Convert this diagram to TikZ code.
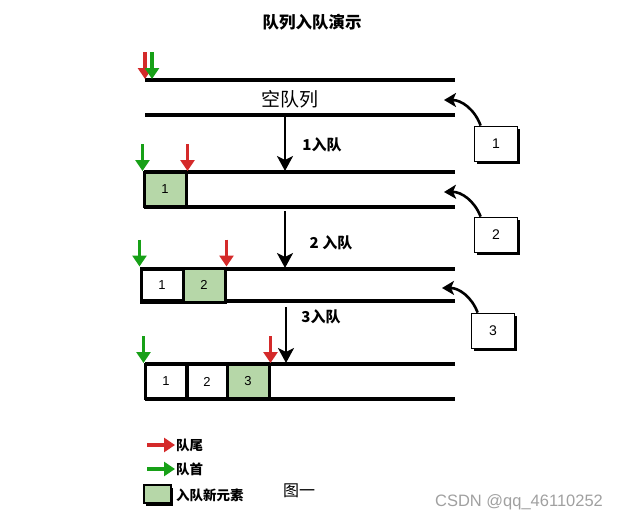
\documentclass[tikz,border=0pt]{standalone}
\usepackage{fontspec}
\setmainfont{Liberation Sans}
\newfontfamily\cjk{Noto Sans CJK SC}
\usetikzlibrary{arrows.meta, shadows}
\definecolor{TailRed}{HTML}{D42A2A}
\definecolor{HeadGreen}{HTML}{17A017}
\definecolor{NewGreen}{HTML}{B6D7A8}
\definecolor{MarkGray}{HTML}{A0A0A0}
\tikzset{
  qline/.style={line width=3.2pt},
  cell/.style={draw, line width=3pt, minimum width=42pt, minimum height=34pt,
               inner sep=0pt, font=\fontsize{13}{15}\selectfont},
  newcell/.style={cell, fill=NewGreen},
  tailptr/.style={TailRed, line width=3.2pt, -{Triangle[width=14pt,length=11pt]}},
  headptr/.style={HeadGreen, line width=3.2pt, -{Triangle[width=14pt,length=11pt]}},
  stepdown/.style={line width=2.6pt, -{Stealth[width=16pt,length=15pt,inset=4pt]}},
  numbox/.style={draw, line width=1.8pt, fill=white, minimum width=43pt,
                 minimum height=35pt, font=\fontsize{14}{16}\selectfont,
                 drop shadow={shadow xshift=2.5pt, shadow yshift=-2.5pt, fill=black, opacity=1}},
  bendarrow/.style={line width=2.6pt, -{Stealth[width=14pt,length=12pt,inset=3pt]}},
  cjklabel/.style={font=\cjk\bfseries\fontsize{15}{17}\selectfont},
  legtext/.style={font=\cjk\bfseries\fontsize{13.5}{15}\selectfont, anchor=west, inner sep=1pt}
}
\begin{document}
\begin{tikzpicture}[x=1pt, y=-1pt]
  \useasboundingbox (0,0) rectangle (620,520);
  % Title
  \node[font=\cjk\bfseries\fontsize{16.5}{18}\selectfont] (title) at (312,22) {队列入队演示};
  % Queue walls
  \foreach \l/\t/\b in {145/80/115, 144/172/207, 141/269/301, 145/364/399}{
    \draw[qline] (\l,\t) -- (455,\t);
    \draw[qline] (\l,\b) -- (455,\b);
  }
  \node[font=\cjk\fontsize{19}{21}\selectfont] (empty) at (290,99) {空队列};
  % Cells
  \node[newcell] (c11) at (165,189.5) {1};
  \node[cell]    (c21) at (162,285) {1};
  \node[newcell] (c22) at (204,285) {2};
  \node[cell]    (c31) at (166,381.5) {1};
  \node[cell]    (c32) at (207,381.5) {2};
  \node[newcell] (c33) at (248,381.5) {3};
  % Head and tail pointers
  \coordinate (r0) at (145,52);
  \coordinate (r0e) at (145,79);
  \coordinate (g0) at (152,52);
  \coordinate (g0e) at (152,79);
  \draw[tailptr] (r0) -- (r0e);
  \draw[headptr] (g0) -- (g0e);
  \foreach \h/\t in {c11/c11, c21/c22, c31/c33}{
    \draw[headptr] ([yshift=27pt]\h.north west) -- (\h.north west);
    \draw[tailptr] ([yshift=27pt]\t.north east) -- (\t.north east);
  }
  % Enqueue steps
  \coordinate (d0) at (285,115);
  \coordinate (d1) at (285,171);
  \coordinate (d2) at (285,211);
  \coordinate (d3) at (285,268);
  \coordinate (d4) at (286,307);
  \coordinate (d5) at (286,363);
  \draw[stepdown] (d0) -- (d1);
  \draw[stepdown] (d2) -- (d3);
  \draw[stepdown] (d4) -- (d5);
  \node[cjklabel] (s1) at (322,145) {1入队};
  \node[cjklabel] (s2) at (331,243) {2 入队};
  \node[cjklabel] (s3) at (321,317) {3入队};
  % Incoming elements
  \node[numbox] (n1) at (496,144) {1};
  \node[numbox] (n2) at (496,235) {2};
  \node[numbox] (n3) at (493,331) {3};
  \coordinate (t1) at (444,100);
  \coordinate (t2) at (444,192);
  \coordinate (t3) at (442,288);
  \foreach \n/\t in {n1/t1, n2/t2, n3/t3}{
    \draw[bendarrow] ([xshift=7pt]\n.north west) to[bend right=35] (\t);
  }
  % Legend
  \coordinate (lr) at (147,445);
  \coordinate (lg) at (147,469);
  \node[legtext] (ltail) at (175,445) {队尾};
  \node[legtext] (lhead) at (175,469) {队首};
  \draw[tailptr] (lr) -- (ltail.west);
  \draw[headptr] (lg) -- (lhead.west);
  \node[draw, line width=2pt, fill=NewGreen, minimum width=27pt, minimum height=18pt,
        drop shadow={shadow xshift=2.5pt, shadow yshift=-2.5pt, fill=black, opacity=1}]
    (lbox) at (157,494) {};
  \node[legtext] (lnew) at (175,495) {入队新元素};
  \node[font=\cjk\fontsize{16}{18}\selectfont] (fig) at (299,491) {图一};
  \node[MarkGray, font=\fontsize{16.5}{18}\selectfont] (mark) at (519,502) {CSDN @qq\_46110252};
\end{tikzpicture}
\end{document}
